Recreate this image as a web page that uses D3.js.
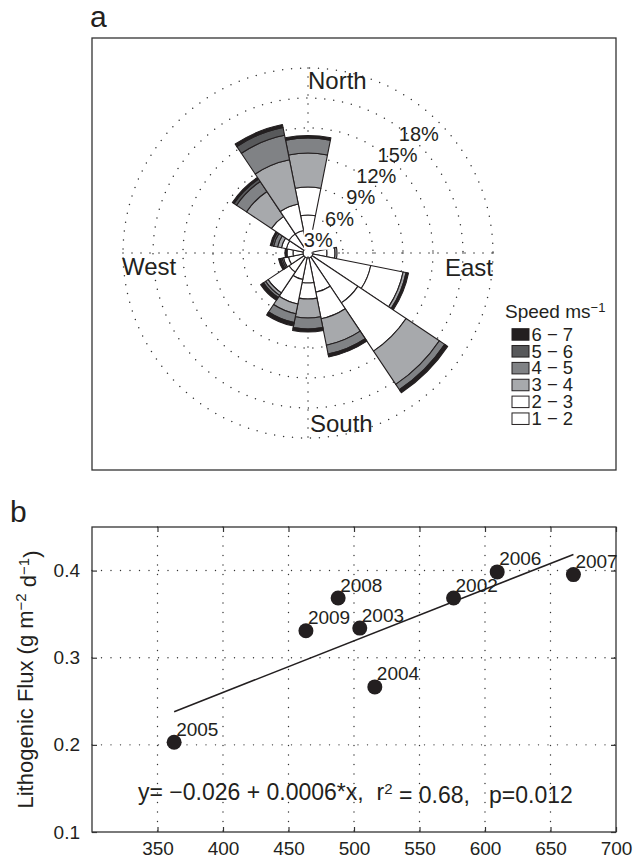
<!DOCTYPE html>
<html>
<head>
<meta charset="utf-8">
<script src="https://cdn.jsdelivr.net/npm/d3@7"></script>
<style>
  html, body { margin: 0; padding: 0; background: #fff; }
  svg { display: block; font-family: "Liberation Sans", Arial, Helvetica, sans-serif; }
  text { white-space: pre; }
</style>
</head>
<body>
<svg id="fig" width="635" height="860"></svg>
<script>
// ---- Wind rose data: frequency (%) per direction for each speed class ----
const directions = ["N","NNE","NE","ENE","E","ESE","SE","SSE","S","SSW","SW","WSW","W","WNW","NW","NNW"];
const speedClasses = ["1 \u2212 2","2 \u2212 3","3 \u2212 4","4 \u2212 5","5 \u2212 6","6 \u2212 7"];
const speed12 = [3.3, 0, 0, 0, 1.4, 5.9, 5.5, 3.5, 2.5, 2.2, 1.8, 1.5, 1.0, 1.7, 1.8, 1.8];
const speed23 = [2.8, 0, 0, 0, 0.8, 3.3, 5.8, 2.7, 1.6, 2.5, 2.5, 0.5, 0.6, 0.5, 2.1, 2.7];
const speed34 = [3.4, 0, 0, 0, 0.2, 0.3, 4.0, 2.7, 1.9, 1.0, 0.3, 0.15, 0.1, 0.4, 3.0, 4.5];
const speed45 = [1.5, 0, 0, 0, 0, 0.1, 0.65, 0.9, 1.1, 0.9, 0.25, 0.15, 0.05, 0.4, 1.2, 2.5];
const speed56 = [0.05, 0, 0, 0, 0, 0, 0.1, 0.1, 0.1, 0.1, 0.1, 0.05, 0, 0.2, 0.3, 0.8];
const speed67 = [0.2, 0, 0, 0, 0, 0.15, 0.25, 0.2, 0.2, 0.25, 0.25, 0.15, 0.05, 0.15, 0.2, 0.3];
const circleTicks = [3, 6, 9, 12, 15, 18];

// ---- Flux regression data ----
const years = ["2005","2009","2008","2003","2004","2002","2006","2007"];
const windX = [362.7, 463.3, 487.9, 504.4, 515.9, 576.0, 609.3, 667.5];
const flux = [0.203, 0.331, 0.3685, 0.334, 0.2665, 0.3685, 0.3985, 0.3954];
const xTicks = [350, 400, 450, 500, 550, 600, 650, 700];
const yTicks = [0.1, 0.2, 0.3, 0.4];

const svg = d3.select("#fig");
const ink = "#231f20";
const classFill = ["#ffffff", "#ffffff", "#a7a9ac", "#808285", "#58595b", "#231f20"];

// ================= Panel a: wind rose =================
const frameA = {x0: 92, y0: 38, x1: 616, y1: 470};
svg.append("rect").attr("x", frameA.x0).attr("y", frameA.y0)
  .attr("width", frameA.x1 - frameA.x0).attr("height", frameA.y1 - frameA.y0)
  .attr("fill", "none").attr("stroke", "#333").attr("stroke-width", 1.3);
svg.append("text").attr("x", 90).attr("y", 27).attr("font-size", 30).attr("fill", ink).text("a");

const cx = 308, cy = 253;
const r = d3.scaleLinear().domain([0, 18]).range([5, 185]);
const rose = svg.append("g").attr("transform", `translate(${cx},${cy})`);

// dotted reference circles and axes
rose.selectAll("circle.ref").data(circleTicks).join("circle")
  .attr("class", "ref").attr("r", d => r(d)).attr("fill", "none")
  .attr("stroke", "#333").attr("stroke-width", 1.5)
  .attr("stroke-linecap", "round").attr("stroke-dasharray", "0,9");
const rmax = r(d3.max(circleTicks));
[[-rmax, 0, rmax, 0], [0, -rmax, 0, rmax]].forEach(([x1, y1, x2, y2]) => {
  rose.append("line").attr("x1", x1).attr("y1", y1).attr("x2", x2).attr("y2", y2)
    .attr("stroke", "#333").attr("stroke-width", 1.5)
    .attr("stroke-linecap", "round").attr("stroke-dasharray", "0,9");
});

// stacked sectors
const series = [speed12, speed23, speed34, speed45, speed56, speed67];
const sector = 2 * Math.PI / directions.length;
const arc = d3.arc();
const segs = [];
directions.forEach((d, i) => {
  let cum = 0;
  series.forEach((s, k) => {
    const v = s[i];
    if (v > 0) {
      segs.push({i, k, inner: cum, outer: cum + v});
    }
    cum += v;
  });
});
rose.selectAll("path.seg").data(segs).join("path")
  .attr("class", "seg")
  .attr("d", d => arc({
    innerRadius: r(d.inner), outerRadius: r(d.outer),
    startAngle: d.i * sector - sector / 2, endAngle: d.i * sector + sector / 2
  }))
  .attr("fill", d => classFill[d.k])
  .attr("stroke", ink).attr("stroke-width", 1.1).attr("stroke-linejoin", "round");

// percentage labels along the north-east diagonal
const diag = Math.PI / 4;
const pctG = rose.append("g");
circleTicks.forEach(p => {
  const tx = r(p) * Math.sin(diag), ty = -r(p) * Math.cos(diag) + 18.5;
  const t = pctG.append("text").attr("x", tx).attr("y", ty)
    .attr("text-anchor", "end").attr("font-size", 20).attr("fill", ink).text(p + "%");
  if (p === circleTicks[0]) {
    const bb = t.node().getBBox();
    pctG.insert("rect", "text").attr("x", bb.x).attr("y", bb.y + 1)
      .attr("width", bb.width).attr("height", bb.height - 2).attr("fill", "#fff");
  }
});

// compass labels
const compass = [
  {t: "North", x: 0, y: -164, a: "start"},
  {t: "South", x: 2, y: 179, a: "start"},
  {t: "West", x: -186, y: 22, a: "start"},
  {t: "East", x: 185, y: 23, a: "end"}
];
rose.selectAll("text.cmp").data(compass).join("text")
  .attr("class", "cmp").attr("x", d => d.x).attr("y", d => d.y)
  .attr("text-anchor", d => d.a).attr("font-size", 24).attr("fill", ink).text(d => d.t);

// legend
const leg = svg.append("g").attr("transform", "translate(505,318)");
const lt = leg.append("text").attr("x", 0).attr("y", 0).attr("font-size", 19).attr("fill", ink);
lt.append("tspan").text("Speed ms");
lt.append("tspan").attr("dy", "-0.45em").attr("font-size", 13).text("\u22121");
const order = d3.range(speedClasses.length).reverse();
order.forEach((k, j) => {
  const by = 22.7 + j * 16.85;
  leg.append("rect").attr("x", 7).attr("y", by - 12).attr("width", 17).attr("height", 11.5)
    .attr("fill", classFill[k]).attr("stroke", ink).attr("stroke-width", 1);
  leg.append("text").attr("x", 26.5).attr("y", by).attr("font-size", 18.5).attr("fill", ink)
    .text(speedClasses[k]);
});

// ================= Panel b: flux vs wind =================
const frameB = {x0: 92, y0: 527, x1: 616, y1: 832};
svg.append("text").attr("x", 10).attr("y", 522).attr("font-size", 30).attr("fill", ink).text("b");

const x = d3.scaleLinear().domain([300, 700]).range([frameB.x0, frameB.x1]);
const y = d3.scaleLinear().domain([0.1, 0.45]).range([frameB.y1, frameB.y0]);
const pb = svg.append("g");

// grid
pb.selectAll("line.vg").data(xTicks.filter(v => v < 700)).join("line")
  .attr("class", "vg").attr("x1", d => x(d)).attr("x2", d => x(d))
  .attr("y1", frameB.y0).attr("y2", frameB.y1)
  .attr("stroke", "#333").attr("stroke-width", 1.4).attr("stroke-linecap", "round")
  .attr("stroke-dasharray", "0,9.5");
pb.selectAll("line.hg").data(yTicks.filter(v => v > 0.1)).join("line")
  .attr("class", "hg").attr("y1", d => y(d)).attr("y2", d => y(d))
  .attr("x1", frameB.x0).attr("x2", frameB.x1)
  .attr("stroke", "#333").attr("stroke-width", 1.4).attr("stroke-linecap", "round")
  .attr("stroke-dasharray", "0,9.5");

// axes
const axB = pb.append("g").attr("transform", `translate(0,${frameB.y1})`)
  .call(d3.axisBottom(x).tickValues(xTicks).tickSizeInner(-5).tickSizeOuter(0).tickPadding(10).tickFormat(d3.format("d")));
const axL = pb.append("g").attr("transform", `translate(${frameB.x0},0)`)
  .call(d3.axisLeft(y).tickValues(yTicks).tickSizeInner(-5).tickSizeOuter(0).tickPadding(12).tickFormat(d3.format(".1f")));
const axT = pb.append("g").attr("transform", `translate(0,${frameB.y0})`)
  .call(d3.axisTop(x).tickValues(xTicks).tickSizeInner(-5).tickSizeOuter(0).tickFormat(""));
const axR = pb.append("g").attr("transform", `translate(${frameB.x1},0)`)
  .call(d3.axisRight(y).tickValues(yTicks).tickSizeInner(-5).tickSizeOuter(0).tickFormat(""));
[axB, axL, axT, axR].forEach(a => {
  a.select(".domain").remove();
  a.selectAll(".tick line").attr("stroke", "#333").attr("stroke-width", 1.2);
  a.selectAll(".tick text").attr("font-size", 19).attr("fill", ink)
    .attr("font-family", "'Liberation Sans', Arial, Helvetica, sans-serif");
});

pb.append("rect").attr("x", frameB.x0).attr("y", frameB.y0)
  .attr("width", frameB.x1 - frameB.x0).attr("height", frameB.y1 - frameB.y0)
  .attr("fill", "none").attr("stroke", "#333").attr("stroke-width", 1.3);

// least-squares fit drawn across the data range
const mx = d3.mean(windX), my = d3.mean(flux);
const sxy = d3.sum(windX, (v, i) => (v - mx) * (flux[i] - my));
const sxx = d3.sum(windX, v => (v - mx) * (v - mx));
const slope = sxy / sxx, icpt = my - slope * mx;
const xr = d3.extent(windX);
pb.append("path")
  .datum(xr.map(v => [v, icpt + slope * v]))
  .attr("d", d3.line().x(d => x(d[0])).y(d => y(d[1])))
  .attr("fill", "none").attr("stroke", ink).attr("stroke-width", 1.6);

// points and year labels
pb.selectAll("circle.pt").data(windX).join("circle")
  .attr("class", "pt").attr("cx", d => x(d)).attr("cy", (d, i) => y(flux[i]))
  .attr("r", 7.5).attr("fill", ink);
pb.selectAll("text.yr").data(years).join("text")
  .attr("class", "yr").attr("x", (d, i) => x(windX[i]) + 2).attr("y", (d, i) => y(flux[i]) - 6.5)
  .attr("font-size", 19).attr("fill", ink).text(d => d);

// regression statistics
const st = pb.append("text").attr("x", 138).attr("y", 800).attr("font-size", 23).attr("fill", ink);
st.append("tspan").text("y= \u22120.026 + 0.0006*x,  r");
st.append("tspan").attr("dy", "-0.42em").attr("font-size", 15).text("2");
st.append("tspan").attr("dy", "0.42em").text(" = 0.68,   p=0.012");

// y-axis title
const yl = svg.append("text").attr("transform", `translate(33,${(frameB.y0 + frameB.y1) / 2}) rotate(-90)`)
  .attr("text-anchor", "middle").attr("font-size", 22).attr("fill", ink);
yl.append("tspan").text("Lithogenic Flux (g m");
yl.append("tspan").attr("dy", "-0.45em").attr("font-size", 15).text("\u22122");
yl.append("tspan").attr("dy", "0.45em").text(" d");
yl.append("tspan").attr("dy", "-0.45em").attr("font-size", 15).text("\u22121");
yl.append("tspan").attr("dy", "0.45em").text(")");
</script>
</body>
</html>
